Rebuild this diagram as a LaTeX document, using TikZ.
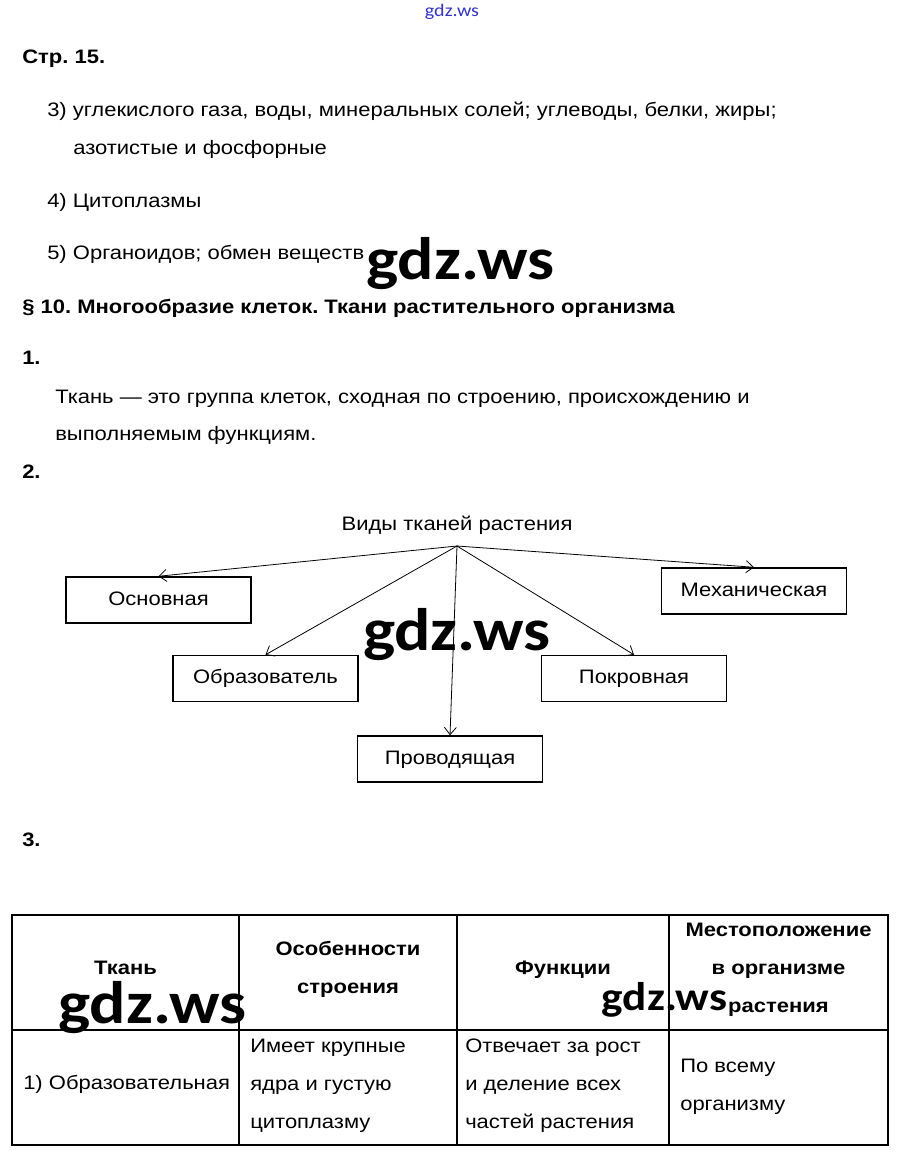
\documentclass[tikz,border=0pt]{standalone}
\usepackage{fontspec}
\setmainfont{Liberation Sans}[FakeStretch=1.13]
\newfontfamily\wmfont{Carlito}[FakeStretch=1.13]
\usetikzlibrary{arrows.meta}
\newcommand\bfs{\fontsize{14.6pt}{18pt}\selectfont}
\frenchspacing
\begin{document}
\begin{tikzpicture}[x=0.75pt,y=-0.75pt,
  txt/.style={anchor=base west,inner sep=0pt,font=\bfs},
  btxt/.style={anchor=base west,inner sep=0pt,font=\bfs\bfseries},
  ctxt/.style={anchor=base,inner sep=0pt,font=\bfs},
  hdr/.style={anchor=base,inner sep=0pt,font=\bfs\bfseries},
  tbox/.style={draw,line width=1.1pt,minimum width=138.75pt,minimum height=34.5pt,
    text height=10pt,text depth=2.5pt,inner sep=0pt,font=\bfs},
  conn/.style={line width=0.6pt,-{Straight Barb[length=5.5pt,width=9pt,line width=0.6pt]}},
  tbl/.style={line width=1pt},
  wm/.style={anchor=base,inner sep=0pt,font=\wmfont\bfseries\fontsize{45pt}{45pt}\selectfont},
  wmsmall/.style={anchor=base,inner sep=0pt,text=blue!70!black!80,font=\wmfont\fontsize{13.3pt}{13.3pt}\selectfont}]
\useasboundingbox[fill=white] (0,0) rectangle (903,1162);

% header watermark
\node[wmsmall] (wm0) at (452,17) {gdz.ws};

% text
\node[btxt] (p15) at (22,64) {Стр. 15.};
\node[txt] (a3) at (47,117) {3) углекислого газа, воды, минеральных солей; углеводы, белки, жиры;};
\node[txt] (a3b) at (73,155) {азотистые и фосфорные};
\node[txt] (a4) at (47,208) {4) Цитоплазмы};
\node[txt] (a5) at (47,260) {5) Органоидов; обмен веществ};
\node[btxt] (s10) at (22,313) {§ 10. Многообразие клеток. Ткани растительного организма};
\node[btxt] (q1) at (22,364) {1.};
\node[txt] (d1) at (55,403) {Ткань — это группа клеток, сходная по строению, происхождению и};
\node[txt] (d2) at (55,440) {выполняемым функциям.};
\node[btxt] (q2) at (22,478) {2.};
\node[btxt] (q3) at (22,846) {3.};

% diagram
\node[ctxt] (title) at (457,530) {Виды тканей растения};
\coordinate (hub) at (457,546);
\node[tbox] (osn)  at (158.5,600)  {Основная};
\node[tbox] (obr)  at (265.5,678.5) {Образователь};
\node[tbox] (prov) at (450,759)    {Проводящая};
\node[tbox] (pokr) at (634,678.5)  {Покровная};
\node[tbox] (mech) at (754,591)    {Механическая};
\draw[conn] (hub) -- (osn.north);
\draw[conn] (hub) -- (obr.north);
\draw[conn] (hub) -- (prov.north);
\draw[conn] (hub) -- (pokr.north);
\draw[conn] (hub) -- (mech.north);

% table
\draw[tbl] (12,915) rectangle (888,1145);
\draw[tbl] (12,1030) -- (888,1030);
\draw[tbl] (239,915) -- (239,1145);
\draw[tbl] (457,915) -- (457,1145);
\draw[tbl] (669,915) -- (669,1145);

\node[hdr] (h1) at (125.5,974) {Ткань};
\node[hdr] (h2a) at (348,955) {Особенности};
\node[hdr] (h2b) at (348,993) {строения};
\node[hdr] (h3) at (563,974) {Функции};
\node[hdr] (h4a) at (778.5,936) {Местоположение};
\node[hdr] (h4b) at (778.5,974) {в организме};
\node[hdr] (h4c) at (778.5,1012) {растения};

\node[txt] (c1) at (23,1089) {1) Образовательная};
\node[txt] (c2a) at (250,1052) {Имеет крупные};
\node[txt] (c2b) at (250,1090) {ядра и густую};
\node[txt] (c2c) at (250,1128) {цитоплазму};
\node[txt] (c3a) at (465,1052) {Отвечает за рост};
\node[txt] (c3b) at (465,1090) {и деление всех};
\node[txt] (c3c) at (465,1128) {частей растения};
\node[txt] (c4a) at (680,1072) {По всему};
\node[txt] (c4b) at (680,1110) {организму};

% watermarks
\node[wm] (wm1) at (460.5,280) {gdz.ws};
\node[wm] (wm2) at (457,650) {gdz.ws};
\node[wm] (wm3) at (152.5,1023) {gdz.ws};
\node[wm,font=\wmfont\bfseries\fontsize{30pt}{30pt}\selectfont] (wm4) at (664.5,1010) {gdz.ws};
\end{tikzpicture}
\end{document}
